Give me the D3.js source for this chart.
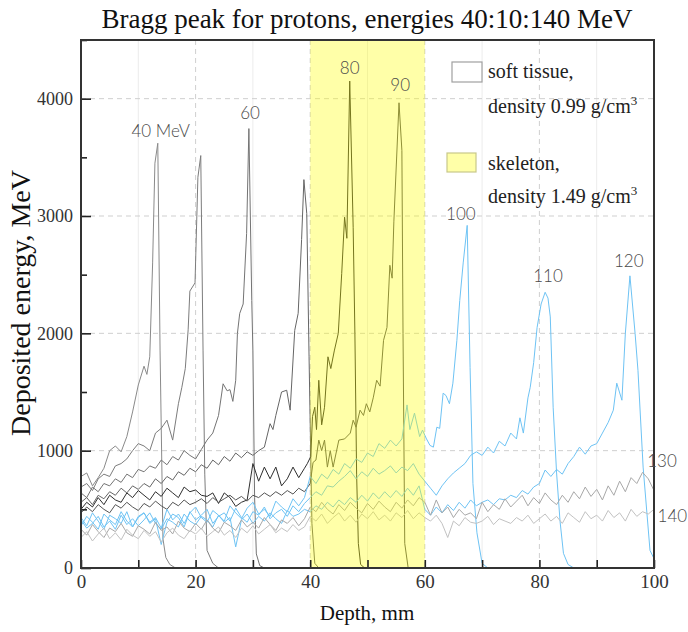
<!DOCTYPE html>
<html lang="en">
<head>
<meta charset="utf-8">
<style>
  body { margin: 0; background: #fff; }
  svg text { font-family: "Liberation Serif", "Times New Roman", serif; }
</style>
</head>
<body>
<svg id="chart" width="688" height="632"></svg>
<script src="https://cdn.jsdelivr.net/npm/d3@7"></script>
<script>
// deposited energy (MeV), base arrays are 1 mm steps from depth 0, peak arrays are [depth, value]
var base40 = [780, 810, 700, 770, 850, 1000, 1040, 990, 1120, 1330, 1560, 1720]
var peak40 = [[11.5,1650],[12,1800],[12.5,2600],[12.9,3450],[13.4,3620],[13.8,1850],[14.3,250],[14.8,90],[15.5,30],[16.5,0]]

var base50 = [690, 720, 660, 760, 800, 780, 870, 890, 930, 1000, 1060, 1040, 1000, 1150, 1190, 1260, 1090, 1400]
var peak50 = [[17.6,1540],[18.2,1700],[18.7,2030],[19,2360],[19.9,2430],[20.4,3330],[20.9,3515],[21.3,1850],[21.6,800],[22,150],[23,40],[24,0]]

var base60 = [640, 600, 690, 650, 720, 700, 760, 730, 800, 770,
              840, 820, 870, 850, 920, 880, 950, 920, 1000, 960,
              930, 1010, 1090, 1150, 1300]
var peak60 = [[24.8,1570],[25.5,1510],[26,1520],[26.5,1420],[27,1600],[27.3,2000],[27.7,2170],[28.3,2250],[28.9,2850],[29.3,3745],[29.8,2280],[30,1850],[30.3,600],[30.6,120],[31.2,20],[32,0]]

var base70 = [560, 600, 540, 620, 590, 650, 620, 680, 640, 700,
              670, 720, 690, 760, 720, 780, 750, 820, 790, 850,
              820, 880, 850, 920, 880, 950, 910, 980, 940, 990,
              960, 1000, 1030]
var peak70 = [[33,1230],[33.5,1180],[34,1300],[35,1500],[35.9,1515],[36.5,1345],[37.3,2025],[37.9,2170],[38.5,2800],[38.9,3310],[39.4,3020],[39.8,1800],[40.3,380],[40.8,40],[41.5,0]]

var base80 = [500, 560, 520, 600, 540, 620, 580, 560, 640, 600,
              660, 620, 580, 650, 610, 680, 640, 600, 690, 650,
              665, 620, 610, 640, 550, 640, 600, 525, 560, 580,
              890, 740, 860, 760, 860, 700, 760, 860, 770, 850]
var peak80 = [[39.5,890],[40.1,950],[40.4,1290],[40.8,1370],[41.1,1180],[41.5,1600],[42,1220],[42.5,1370],[43.1,1800],[43.6,1700],[44.2,1850],[44.9,2000],[45.5,2510],[46,2990],[46.4,2810],[46.9,4150],[47.5,2900],[47.8,2000],[48.1,800],[48.4,210],[48.8,30],[49.5,0]]

var base90 = [470, 520, 480, 540, 500, 470, 540, 510, 560, 520,
              490, 550, 520, 570, 530, 500, 560, 530, 580, 540,
              560, 590, 550, 600, 560, 590, 620, 580, 610, 570,
              620, 600, 640, 610, 650, 620, 660, 630, 680, 650]
var peak90 = [[40,720],[40.5,900],[41,920],[41.5,1090],[42,1000],[42.5,1090],[43,860],[43.5,1000],[44,860],[45,1090],[46,1100],[47,1150],[47.5,1260],[48,1200],[48.7,1345],[49.3,1300],[49.8,1400],[50.4,1330],[51,1450],[51.6,1600],[52.2,1550],[52.8,1940],[53.4,2050],[53.9,2580],[54.3,2470],[54.6,2950],[55.5,3965],[56,3560],[56.2,2000],[56.5,210],[57.1,0]]

var base100 = [430, 360, 470, 400, 330, 450, 420, 380, 480, 350,
               440, 470, 390, 430, 340, 500, 410, 460, 380, 470,
               520, 430, 390, 490, 450, 400, 530, 470, 420, 510,
               560, 460, 500, 440, 570, 520, 480, 590, 530, 600]
var peak100 = [[40,780],[41,720],[42,800],[43,760],[44,840],[45,800],[46,890],[47,850],[48,930],[49,900],[50,980],[51,950],[52,1060],[53,1020],[54,1090],[55,1040],[56,1100],[56.9,1390],[57.4,1180],[58.2,1320],[59.1,1120],[59.6,1175],[60.3,1100],[60.9,1045],[61.5,1030],[62.1,1200],[62.6,1190],[63.2,1490],[63.7,1470],[64.3,1400],[64.9,1575],[65.6,1940],[66.1,2280],[66.7,2600],[67.4,2920],[67.9,1710],[68.4,720],[69.1,300],[70,40],[71,0]]

var base110 = [360, 440, 390, 330, 460, 410, 370, 480, 400, 350,
               430, 470, 380, 420, 200, 390, 460, 430, 350, 480,
               410, 450, 500, 380, 440, 470, 400, 510, 430, 390,
               480, 450, 520, 420, 470, 500, 440, 530, 480, 550]
var peak110 = [[40,600],[41,650],[42,620],[43,700],[44,690],[45,740],[46,780],[47,830],[48,760],[49,820],[50,780],[51,850],[52,800],[53,830],[54,870],[55,810],[56,860],[57,830],[58,890],[59,800],[60,740],[61,680],[62,620],[63,700],[64,760],[65,810],[66,850],[67,890],[68,960],[69,990],[70,960],[71,1030],[72,980],[73,1080],[74,1040],[75,1150],[76,1100],[76.6,1280],[77.2,1150],[78,1450],[78.4,1540],[79,1750],[79.6,2050],[80.3,2250],[81,2350],[81.5,2300],[81.9,2140],[82.4,1370],[83,810],[83.6,400],[84.2,125],[85,30],[86,0]]

var base120 = [410, 340, 380, 440, 350, 400, 330, 450, 370, 420,
               360, 410, 470, 380, 330, 420, 390, 350, 460, 400,
               370, 440, 410, 350, 450, 390, 430, 180, 410, 460,
               380, 440, 400, 470, 420, 380, 490, 440, 460, 500,
               480, 530, 500, 560, 520, 580, 540, 600, 560, 620,
               570, 640, 590, 650, 600, 660, 610, 680, 620, 700,
               500, 450, 520, 470, 540, 490, 560, 510, 580, 530,
               560, 580, 540, 590, 580, 620, 600, 660, 630, 690,
               720, 835, 780, 840, 800, 890, 950, 1030, 970, 1040,
               1060, 1150, 1240]
var peak120 = [[92.9,1345],[93.5,1575],[94.4,1430],[95,2000],[95.8,2490],[96.7,2000],[97.2,1685],[98.1,860],[99.3,150],[100,80]]

var base130 = [330, 280, 370, 310, 260, 340, 310, 380, 300, 270,
               360, 330, 290, 390, 320, 350, 290, 400, 340, 310,
               380, 330, 410, 340, 300, 390, 360, 320, 410, 350,
               390, 340, 430, 370, 320, 410, 380, 430, 360, 420,
               520, 480, 560, 500, 460, 540, 490, 560, 510, 470,
               550, 500, 570, 520, 480, 560, 510, 580, 530, 600,
               560, 450, 580, 470, 520, 430, 500, 450, 470, 420,
               560, 480, 540, 500, 590, 520, 570, 620, 530, 600,
               550, 640, 580, 540, 620, 560, 650, 590, 690, 610,
               670, 580, 700, 620, 740, 650, 770, 720, 815, 760, 660]
var peak130 = []

var base140 = [260, 310, 230, 290, 340, 250, 300, 240, 330, 280,
               250, 320, 270, 310, 220, 300, 340, 280, 250, 320,
               290, 340, 270, 310, 350, 280, 320, 260, 340, 300,
               360, 290, 330, 370, 300, 340, 310, 370, 320, 350,
               440, 400, 460, 380, 430, 470, 400, 450, 390, 460,
               420, 480, 410, 450, 400, 470, 430, 490, 420, 470,
               430, 400, 450, 380, 260, 400, 360, 430, 390, 380,
               400, 440, 370, 420, 400, 380, 430, 400, 450, 380,
               420, 460, 400, 440, 380, 470, 430, 390, 480, 420,
               450, 400, 490, 430, 470, 400, 500, 440, 480, 460, 500]
var peak140 = []

var energies = [40, 50, 60, 70, 80, 90, 100, 110, 120, 130, 140]
var bases = [base40, base50, base60, base70, base80, base90, base100, base110, base120, base130, base140]
var peaks = [peak40, peak50, peak60, peak70, peak80, peak90, peak100, peak110, peak120, peak130, peak140]
var colors = ["#8a8a8a", "#7c7c7c", "#747474", "#666666", "#2e2e2e", "#555555",
              "#6ec3f4", "#6ec3f4", "#6ec3f4", "#a8a8a8", "#c2c2c2"]

var peakLabels = ["40 MeV", "60", "80", "90", "100", "110", "120", "130", "140"]
var labelDepth = [13.9, 29.5, 46.9, 55.7, 66.3, 81.5, 95.6, 101.4, 103.2]
var labelValue = [3677, 3830, 4213, 4068, 2962, 2434, 2562, 860, 390]

var xTicks = [0, 10, 20, 30, 40, 50, 60, 70, 80, 90, 100]
var yTicks = [0, 500, 1000, 1500, 2000, 2500, 3000, 3500, 4000, 4500]
var boneRange = [40, 60]

var legendNames = ["soft tissue,", "skeleton,"]
var legendDensity = ["density 0.99 g/cm", "density 1.49 g/cm"]

var svg = d3.select("#chart")
var plotLeft = 81, plotRight = 654, plotTop = 40, plotBottom = 568

var x = d3.scaleLinear().domain([0, 100]).range([plotLeft, plotRight])
var y = d3.scaleLinear().domain([0, 4500]).range([plotBottom, plotTop])

// grid
var grid = svg.append("g")
grid.selectAll(".vminor").data(xTicks.filter(function(d){ return d % 20 == 10 }))
    .enter().append("line")
    .attr("x1", function(d){ return x(d) }).attr("x2", function(d){ return x(d) })
    .attr("y1", plotTop).attr("y2", plotBottom)
    .attr("stroke", "#ececec").attr("stroke-width", 1)
grid.selectAll(".vmajor").data(xTicks.filter(function(d){ return d % 20 == 0 && d > 0 && d < 100 }))
    .enter().append("line")
    .attr("x1", function(d){ return x(d) }).attr("x2", function(d){ return x(d) })
    .attr("y1", plotTop).attr("y2", plotBottom)
    .attr("stroke", "#cfcfcf").attr("stroke-width", 1).attr("stroke-dasharray", "5,4")
grid.selectAll(".hmajor").data(yTicks.filter(function(d){ return d % 1000 == 0 && d > 0 }))
    .enter().append("line")
    .attr("x1", plotLeft).attr("x2", plotRight)
    .attr("y1", function(d){ return y(d) }).attr("y2", function(d){ return y(d) })
    .attr("stroke", "#cfcfcf").attr("stroke-width", 1).attr("stroke-dasharray", "5,4")

// curves
var lineFunction = d3.line()
    .x(function(d){ return x(d[0]) })
    .y(function(d){ return y(d[1]) })

var series = energies.map(function(e, i){
    var pts = bases[i].map(function(v, j){ return [j, v] }).concat(peaks[i])
    return { energy: e, pts: pts, color: colors[i] }
})

svg.append("g").selectAll("path").data(series).enter().append("path")
    .attr("d", function(d){ return lineFunction(d.pts) })
    .attr("fill", "none")
    .attr("stroke", function(d){ return d.color })
    .attr("stroke-width", 1)
    .attr("stroke-linejoin", "round")

// bone band drawn over the curves
svg.append("rect")
    .attr("x", x(boneRange[0])).attr("y", plotTop)
    .attr("width", x(boneRange[1]) - x(boneRange[0])).attr("height", plotBottom - plotTop)
    .attr("fill", "#ffff00").attr("fill-opacity", 0.34)

// axes
var xAxis = d3.axisBottom(x).tickValues(xTicks).tickSize(-8).tickPadding(7)
    .tickFormat(function(d){ return d % 20 == 0 ? d : "" })
var gx = svg.append("g").attr("transform", "translate(0," + plotBottom + ")").call(xAxis)
gx.select(".domain").remove()
gx.selectAll(".tick line").attr("stroke", "#222").attr("stroke-width", 1.6)
gx.selectAll(".tick text").attr("font-size", 19).attr("fill", "#333")
    .attr("font-family", "Liberation Serif")

var yAxis = d3.axisLeft(y).tickValues(yTicks).tickSize(-10).tickPadding(8)
    .tickFormat(function(d){ return d % 1000 == 0 ? d : "" })
var gy = svg.append("g").attr("transform", "translate(" + plotLeft + ",0)").call(yAxis)
gy.select(".domain").remove()
gy.selectAll(".tick line").attr("x2", function(d){ return d % 1000 == 0 ? 10 : 6 })
    .attr("stroke", "#222").attr("stroke-width", 1.6)
gy.selectAll(".tick text").attr("font-size", 18).attr("fill", "#333")
    .attr("font-family", "Liberation Serif")

// frame
svg.append("rect")
    .attr("x", plotLeft).attr("y", plotTop)
    .attr("width", plotRight - plotLeft).attr("height", plotBottom - plotTop)
    .attr("fill", "none").attr("stroke", "#333").attr("stroke-width", 2)

// peak labels
svg.append("g").selectAll("text").data(peakLabels).enter().append("text")
    .attr("x", function(d, i){ return x(labelDepth[i]) })
    .attr("y", function(d, i){ return y(labelValue[i]) })
    .attr("text-anchor", "middle")
    .style("font-family", "Lato, 'Open Sans', sans-serif")
    .style("font-weight", 300)
    .attr("font-size", 17)
    .attr("fill", "#4a4a4a")
    .text(function(d){ return d })

// legend
var legendBoxes = [[452, 62, 30, 20, "#ffffff", "#a0a0a0"], [447, 153, 29, 19, "#ffffa8", "#c8c88a"]]
var legendY = [[78, 113], [170, 203]]
legendNames.forEach(function(name, i){
    var b = legendBoxes[i]
    svg.append("rect").attr("x", b[0]).attr("y", b[1]).attr("width", b[2]).attr("height", b[3])
        .attr("fill", b[4]).attr("stroke", b[5]).attr("stroke-width", 1.2)
    svg.append("text").attr("x", 488).attr("y", legendY[i][0])
        .attr("font-size", 20).attr("fill", "#222").text(name)
    var t = svg.append("text").attr("x", 488).attr("y", legendY[i][1])
        .attr("font-size", 20).attr("fill", "#222")
    t.append("tspan").text(legendDensity[i])
    t.append("tspan").attr("dy", -8).attr("font-size", 13).text("3")
})

// titles
svg.append("text").attr("x", 367).attr("y", 28).attr("text-anchor", "middle")
    .attr("font-size", 27).attr("fill", "#111")
    .text("Bragg peak for protons, energies 40:10:140 MeV")
svg.append("text").attr("x", 367).attr("y", 620).attr("text-anchor", "middle")
    .attr("font-size", 21).attr("fill", "#111").text("Depth, mm")
svg.append("text").attr("transform", "translate(30,303) rotate(-90)").attr("text-anchor", "middle")
    .attr("font-size", 28).attr("fill", "#111").text("Deposited energy, MeV")
</script>
</body>
</html>
